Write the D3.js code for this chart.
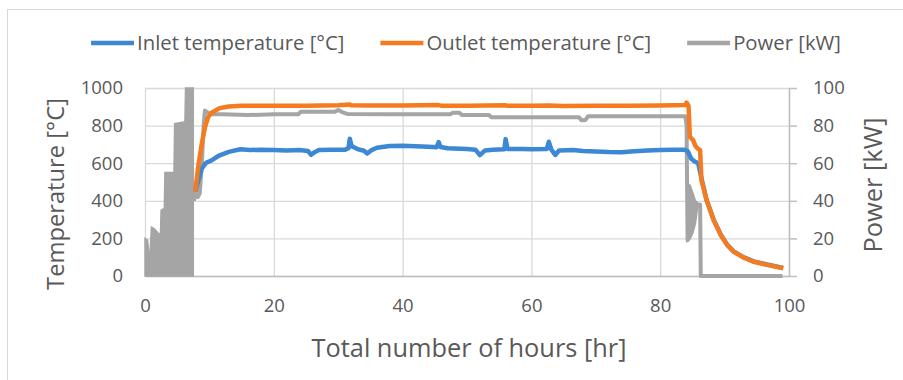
<!DOCTYPE html>
<html>
<head>
<meta charset="utf-8">
<script src="https://cdn.jsdelivr.net/npm/d3@7"></script>
<style>
body { margin: 0; background: #fff; }
text { font-family: "Open Sans", Lato, sans-serif; fill: #595959; }
.grid line { stroke: #d9d9d9; stroke-width: 1.3; }
.grid path { display: none; }
</style>
</head>
<body>
<script>
// ---- data: [hour, value] ----
var inlet = [[7.8,450],[8.3,510],[8.8,570],[9.3,595],[9.6,605],[10.2,612],[11,630],[11.6,642],[13,660],[14.8,674],
  [16.3,670],[18,672],[20,670],[22,668],[24,670],[25.3,665],[25.8,645],[26.4,660],[27,670],[29,672],[31,671],
  [31.6,680],[31.8,730],[32.1,690],[33,675],[34,666],[34.5,652],[35.1,668],[36,682],[38,691],[40,693],[42,690],
  [44,688],[45.3,685],[45.6,712],[45.9,686],[47,680],[50,676],[51.3,672],[52,643],[52.8,668],[54,672],[55.8,674],
  [56,728],[56.3,676],[58.7,675],[60,674],[62.4,676],[62.7,714],[63.1,672],[63.7,644],[64.3,668],[66.5,670],
  [68,665],[70,662],[72,659],[74,658],[76,663],[78,668],[80,670],[82,671],[83.8,672],[84.3,662],[84.8,625],
  [85.3,610],[85.9,600],[86.5,505],[87.2,404],[88.3,299],[89.4,220],[90.4,167],[91.4,131],[93,99],[94.5,78],
  [96.6,61],[99.1,43]];

var outlet = [[7.8,450],[8.3,590],[8.8,700],[9.3,790],[9.8,845],[10.4,870],[11.6,893],[13,902],[15,905],[20,906],
  [25,906],[30,908],[31.8,912],[32,908],[35,907],[40,907],[45.6,909],[46,906],[50,905],[56,908],[56.3,905],
  [60,905],[62.7,907],[65,904],[70,905],[75,906],[80,907],[83.9,909],[84.1,922],[84.4,905],[84.6,741],[85.1,723],
  [85.5,690],[85.8,679],[86.2,670],[86.4,511],[87.2,404],[88.3,298],[89.4,218],[90.4,165],[91.4,129],[93,97],
  [94.5,76],[96.6,59],[99.1,41]];

var power = [[7.6,40],[7.9,45],[8.2,42],[8.5,44],[8.8,58],[9.1,80],[9.3,88],[9.7,87],[10.5,86],[12,86],[16,85.6],
  [20,86],[23.8,86],[24.2,87.4],[29.5,87.4],[30,88.3],[30.6,87.2],[31.4,86.2],[38,86],[47.4,86],[47.8,86.9],
  [48.8,86.8],[49.2,85.6],[53.4,85.6],[53.8,84.4],[67.4,84.4],[67.8,82.8],[68.4,83],[68.8,85],[78,85],[83.9,85],
  [84.1,80],[84.25,19],[85.7,38],[86.2,38],[86.3,0],[99,0]];

// start-up on/off cycling (0 up to this envelope), kW
var powerBurst = [[0,20],[0.4,19],[0.6,12],[0.8,13],[1.0,26],[1.5,25],[2.0,23],[2.4,22],[2.5,35],[3.0,36],
  [3.1,55],[4.5,55],[4.6,81],[6.2,82],[6.3,100],[7.5,100]];
// shut-down cycling band: [hour, low, high], kW
var powerBand = [[84.25,19,49],[84.6,20,48],[85,23,44],[85.4,28,40],[85.7,36,39]];

var hourTicks = [0, 20, 40, 60, 80, 100];
var tempTicks = [0, 200, 400, 600, 800, 1000];
var powerTicks = [0, 20, 40, 60, 80, 100];
var seriesNames = ["Inlet temperature [°C]", "Outlet temperature [°C]", "Power [kW]"];
var seriesColors = ["#3d88d4", "#f47b20", "#a5a5a5"];

// ---- layout ----
var margin = {top: 88, right: 114, bottom: 104, left: 145},
    width = 903 - margin.left - margin.right,
    height = 380 - margin.top - margin.bottom;

var svg0 = d3.select("body").append("svg")
    .attr("width", 903)
    .attr("height", 380);

// scale a text's font so it spans the width it has in the picture
function fit(sel, w) {
  var fs = parseFloat(sel.style("font-size"));
  sel.style("font-size", (fs * w / sel.node().getComputedTextLength()) + "px");
}

// outer chart border
svg0.append("rect")
    .attr("x", 7.5).attr("y", 9.5)
    .attr("width", 920).attr("height", 400)
    .attr("fill", "none").attr("stroke", "#d9d9d9");

var svg = svg0.append("g")
    .attr("transform", "translate(" + margin.left + "," + margin.top + ")");

var x = d3.scaleLinear().domain([0, 100]).range([0, width]);
var yT = d3.scaleLinear().domain([0, 1000]).range([height, 0]);
var yP = d3.scaleLinear().domain([0, 100]).range([height, 0]);

// gridlines
svg.append("g").attr("class", "grid")
    .call(d3.axisLeft(yT).tickValues(tempTicks).tickSize(-width).tickFormat(""));
svg.append("g").attr("class", "grid")
    .call(d3.axisBottom(x).tickValues(hourTicks).tickSize(height).tickFormat(""));

// left axis (labels only)
var gl = svg.append("g")
    .call(d3.axisLeft(yT).tickValues(tempTicks).tickFormat(d3.format("d")).tickSize(0).tickPadding(22));
gl.select(".domain").remove();

// right axis
var gr = svg.append("g")
    .attr("transform", "translate(" + width + ",0)")
    .call(d3.axisRight(yP).tickValues(powerTicks).tickSize(8).tickSizeOuter(0).tickPadding(16));
gr.selectAll("line, path").attr("stroke", "#bfbfbf").attr("stroke-width", 1.5);

// bottom axis
var gb = svg.append("g")
    .attr("transform", "translate(0," + height + ")")
    .call(d3.axisBottom(x).tickValues(hourTicks).tickSize(0).tickSizeOuter(0).tickPadding(23));
gb.select(".domain").attr("stroke", "#bfbfbf").attr("stroke-width", 1.5);

svg0.selectAll(".tick text").style("font-size", "18.5px").attr("fill", "#595959");

// power series (secondary axis, drawn behind)
var burstArea = d3.area()
    .x(function(d) { return x(d[0]); })
    .y0(yP(0))
    .y1(function(d) { return yP(d[1]); });
svg.append("path")
    .datum(powerBurst)
    .attr("d", burstArea)
    .attr("fill", seriesColors[2])
    .attr("stroke", seriesColors[2]).attr("stroke-width", 1.5);

var bandArea = d3.area()
    .x(function(d) { return x(d[0]); })
    .y0(function(d) { return yP(d[1]); })
    .y1(function(d) { return yP(d[2]); });
svg.append("path")
    .datum(powerBand)
    .attr("d", bandArea)
    .attr("fill", seriesColors[2])
    .attr("stroke", seriesColors[2]).attr("stroke-width", 2.5);

var powerLine = d3.line()
    .x(function(d) { return x(d[0]); })
    .y(function(d) { return yP(d[1]); });
svg.append("path")
    .datum(power)
    .attr("d", powerLine)
    .attr("fill", "none")
    .attr("stroke", seriesColors[2])
    .attr("stroke-width", 4)
    .attr("stroke-linejoin", "round");

var tempLine = d3.line()
    .x(function(d) { return x(d[0]); })
    .y(function(d) { return yT(d[1]); });

[inlet, outlet].forEach(function(s, i) {
  svg.append("path")
      .datum(s)
      .attr("d", tempLine)
      .attr("fill", "none")
      .attr("stroke", seriesColors[i])
      .attr("stroke-width", 4.5)
      .attr("stroke-linejoin", "round");
});

// axis titles
var xTitle = svg0.append("text")
    .attr("x", 469).attr("y", 357)
    .attr("text-anchor", "middle")
    .style("font-size", "24px")
    .text("Total number of hours [hr]");
fit(xTitle, 315);

var tTitle = svg0.append("text")
    .attr("transform", "translate(64,194) rotate(-90)")
    .attr("text-anchor", "middle")
    .style("font-size", "22px")
    .text("Temperature [°C]");
fit(tTitle, 192);

var pTitle = svg0.append("text")
    .attr("transform", "translate(882,185) rotate(-90)")
    .attr("text-anchor", "middle")
    .style("font-size", "22px")
    .text("Power [kW]");
fit(pTitle, 135);

// legend
var legend = svg0.append("g");
var items = legend.selectAll(".legend")
    .data(seriesNames)
    .enter().append("g")
    .attr("class", "legend");
items.append("line")
    .attr("x1", 0).attr("x2", 43)
    .attr("y1", 43).attr("y2", 43)
    .attr("stroke", function(d, i) { return seriesColors[i]; })
    .attr("stroke-width", 4.5);
var ltext = items.append("text")
    .attr("x", 46).attr("y", 49.5)
    .style("font-size", "18px")
    .text(function(d) { return d; });

// one font size for all legend labels, so they span the same total width as in the picture
var sumW = 0;
ltext.each(function() { sumW += this.getComputedTextLength(); });
ltext.style("font-size", (18 * 540 / sumW) + "px");

var pos = 0, starts = [];
items.each(function() {
  starts.push(pos);
  pos += 46 + d3.select(this).select("text").node().getComputedTextLength() + 36;
});
var total = pos - 36, left0 = 466 - total / 2;
items.attr("transform", function(d, i) { return "translate(" + (left0 + starts[i]) + ",0)"; });
</script>
</body>
</html>
